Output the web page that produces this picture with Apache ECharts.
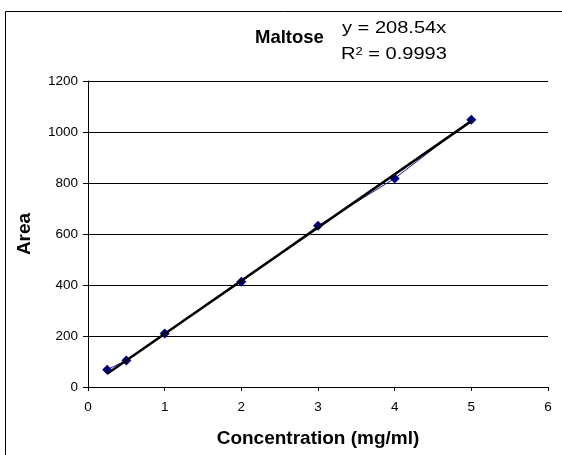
<!DOCTYPE html>
<html>
<head>
<meta charset="utf-8">
<script src="https://cdn.jsdelivr.net/npm/echarts@6/dist/echarts.min.js"></script>
<style>
  html, body { margin: 0; padding: 0; background: #fff; }
  #chart { width: 562px; height: 455px; }
</style>
</head>
<body>
<div id="chart"></div>
<script>
var concentration = [0.25, 0.5, 1, 2, 3, 4, 5];
var area = [68, 104, 210, 413, 632, 818, 1048];
var slope = 208.54;
var xTicks = [0, 1, 2, 3, 4, 5, 6];
var yTicks = [0, 200, 400, 600, 800, 1000, 1200];

var points = concentration.map(function (c, i) { return [c, area[i]]; });
var xFirst = concentration[0], xLast = concentration[concentration.length - 1];
var trend = [[xFirst, slope * xFirst], [xLast, slope * xLast]];

var chart = echarts.init(document.getElementById('chart'));

var option = {
    backgroundColor: '#fff',
    animation: false,
    textStyle: { fontFamily: 'Liberation Sans' },
    grid: { left: 88, right: 14, top: 81, bottom: 68 },
    graphic: [
        {
            type: 'rect',
            shape: { x: 5.5, y: 11.5, width: 600, height: 500 },
            style: { fill: 'none', stroke: '#000', lineWidth: 1 },
            silent: true
        },
        {
            type: 'text', x: 255, y: 28,
            style: { text: 'Maltose', font: 'bold 18.5px Liberation Sans', fill: '#000' }
        },
        {
            type: 'text', x: 342, y: 20, scaleX: 1.18,
            style: { text: 'y = 208.54x', font: '17px Liberation Sans', fill: '#000' }
        },
        {
            type: 'text', x: 341, y: 46, scaleX: 1.18,
            style: {
                text: '{n|R}{s|2}{n| = 0.9993}',
                rich: {
                    n: { font: '17px Liberation Sans', fill: '#000', verticalAlign: 'bottom' },
                    s: { font: '11px Liberation Sans', fill: '#000', verticalAlign: 'top' }
                }
            }
        }
    ],
    xAxis: {
        type: 'value',
        min: xTicks[0],
        max: xTicks[xTicks.length - 1],
        interval: 1,
        name: 'Concentration (mg/ml)',
        nameLocation: 'middle',
        nameGap: 42,
        nameTextStyle: { fontWeight: 'bold', fontSize: 19, color: '#000' },
        axisLine: { lineStyle: { color: '#000', width: 1 } },
        axisTick: { inside: false, length: 4, lineStyle: { color: '#000' } },
        axisLabel: { color: '#000', fontSize: 13.5, margin: 13 },
        splitLine: { show: false }
    },
    yAxis: {
        type: 'value',
        min: yTicks[0],
        max: yTicks[yTicks.length - 1],
        interval: 200,
        name: 'Area',
        nameLocation: 'middle',
        nameGap: 54,
        nameTextStyle: { fontWeight: 'bold', fontSize: 19, color: '#000' },
        axisLine: { show: true, lineStyle: { color: '#000', width: 1 } },
        axisTick: { show: true, inside: false, length: 5, lineStyle: { color: '#000' } },
        axisLabel: {
            color: '#000', fontSize: 13.5, margin: 10,
            formatter: function (v) { return String(v); }
        },
        splitLine: { show: true, lineStyle: { color: '#000', width: 1 } }
    },
    series: [
        {
            type: 'line',
            data: points,
            symbol: 'diamond',
            symbolSize: 10,
            lineStyle: { color: '#1a1aa0', width: 1 },
            itemStyle: { color: '#000080' },
            z: 2
        },
        {
            type: 'line',
            data: trend,
            symbol: 'none',
            lineStyle: { color: '#000', width: 2.5 },
            z: 3
        }
    ]
};
chart.setOption(option);
</script>
</body>
</html>
